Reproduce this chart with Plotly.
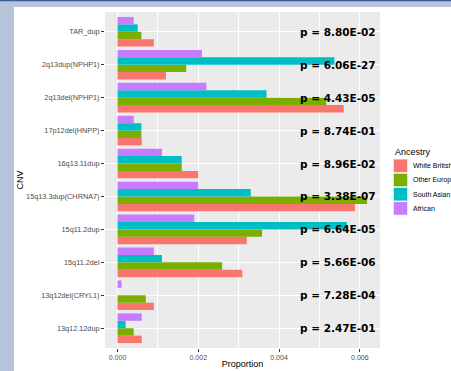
import plotly.graph_objects as go

# ---- data (bottom-to-top category order, as in ggplot factor levels) ----
cnv = ["13q12.12dup", "13q12del(CRYL1)", "15q11.2del", "15q11.2dup",
       "15q13.3dup(CHRNA7)", "16q13.11dup", "17p12del(HNPP)",
       "2q13del(NPHP1)", "2q13dup(NPHP1)", "TAR_dup"]
white_british = [0.0006, 0.0009, 0.00309, 0.0032, 0.00588, 0.0020, 0.0006, 0.0056, 0.0012, 0.0009]
other_european = [0.0004, 0.0007, 0.00259, 0.00358, 0.00618, 0.00159, 0.00059, 0.00517, 0.0017, 0.00059]
south_asian = [0.0002, 0.0, 0.0011, 0.00568, 0.0033, 0.00159, 0.00059, 0.00369, 0.00537, 0.0005]
african = [0.0006, 0.0001, 0.0009, 0.0019, 0.0020, 0.0011, 0.0004, 0.0022, 0.00209, 0.0004]
p_labels = ["p = 2.47E-01", "p = 7.28E-04", "p = 5.66E-06", "p = 6.64E-05",
            "p = 3.38E-07", "p = 8.96E-02", "p = 8.74E-01", "p = 4.43E-05",
            "p = 6.06E-27", "p = 8.80E-02"]
ancestry = ["White British", "Other European", "South Asian", "African"]
colors = ["#F8766D", "#7CAE00", "#00BFC4", "#C77CFF"]
series = [white_british, other_european, south_asian, african]
x_ticks = [0.0, 0.002, 0.004, 0.006]
x_ticklabels = ["0.000", "0.002", "0.004", "0.006"]
p_x = 0.00547

W, H = 451, 371
L, R, T, B = 105, 71, 12, 23
pw, ph = W - L - R, H - T - B

def px_x(p):
    return (p - L) / pw

def px_y(p):
    return (H - B - p) / ph

fig = go.Figure()
for name, vals, col in zip(ancestry, series, colors):
    fig.add_trace(go.Bar(y=cnv, x=vals, name=name, orientation="h", showlegend=False,
                         marker=dict(color=col, line=dict(width=0))))

for c, lab in zip(cnv, p_labels):
    fig.add_annotation(x=p_x, y=c, xref="x", yref="y", text=lab, showarrow=False,
                       xanchor="center", yanchor="middle",
                       font=dict(family="DejaVu Sans", size=10.5, color="black", weight="bold"))

strip = "#b5c4d8"
shapes = [
    dict(type="rect", xref="paper", yref="paper", x0=px_x(-5), x1=px_x(14),
         y0=px_y(H + 5), y1=px_y(-5), fillcolor=strip, line=dict(width=0), layer="above"),
    dict(type="rect", xref="paper", yref="paper", x0=px_x(-5), x1=px_x(W + 5),
         y0=px_y(7), y1=px_y(-5), fillcolor=strip, line=dict(width=0), layer="above"),
    dict(type="rect", xref="paper", yref="paper", x0=px_x(-5), x1=px_x(W + 5),
         y0=px_y(1.2), y1=px_y(-5), fillcolor="#3b5a96", line=dict(width=0), layer="above"),
]

# ---- ggplot-style legend (keys + labels) ----
leg_key_x0, leg_key_x1 = 393.3, 407.7
leg_top, leg_step = 159.0, 14.2
fig.add_annotation(xref="paper", yref="paper", x=px_x(392.5), y=px_y(152.3),
                   text="Ancestry", showarrow=False, xanchor="left", yanchor="middle",
                   font=dict(size=9, color="black"))
for i, (name, col) in enumerate(zip(ancestry, colors)):
    top = leg_top + i * leg_step
    shapes.append(dict(type="rect", xref="paper", yref="paper",
                       x0=px_x(leg_key_x0), x1=px_x(leg_key_x1),
                       y0=px_y(top + leg_step - 0.6), y1=px_y(top),
                       fillcolor=col, line=dict(width=0.8, color="white"), layer="above"))
    fig.add_annotation(xref="paper", yref="paper", x=px_x(410.5), y=px_y(top + leg_step / 2 - 0.3),
                       text=name, showarrow=False, xanchor="left", yanchor="middle",
                       font=dict(size=7, color="black"))

fig.update_layout(
    width=W, height=H,
    margin=dict(l=L, r=R, t=T, b=B, pad=0, autoexpand=False),
    paper_bgcolor="white", plot_bgcolor="#EBEBEB",
    barmode="group", bargap=0.1, bargroupgap=0,
    font=dict(family="Liberation Sans, Arial, sans-serif", color="#4D4D4D"),
    shapes=shapes,
    showlegend=False,
    xaxis=dict(range=[-0.00031, 0.0065], tickvals=x_ticks, ticktext=x_ticklabels,
               showgrid=True, gridcolor="white", gridwidth=1.1,
               minor=dict(dtick=0.001, tick0=0, showgrid=True, gridcolor="white", gridwidth=0.5),
               zeroline=False, ticks="outside", ticklen=3, tickcolor="#333333",
               tickfont=dict(size=7, color="#4D4D4D"),
               title=dict(text="Proportion", font=dict(size=9, color="black"), standoff=0),
               automargin=False, showline=False),
    yaxis=dict(type="category", categoryorder="array", categoryarray=cnv,
               range=[-0.6, 9.6], showgrid=True, gridcolor="white", gridwidth=1.1,
               zeroline=False, ticks="outside", ticklen=3, tickcolor="#333333",
               tickfont=dict(size=7.3, color="#4D4D4D"),
               title=dict(text="CNV", font=dict(size=9, color="black"), standoff=0),
               automargin=False, showline=False),
)

fig.write_html("out.html")
